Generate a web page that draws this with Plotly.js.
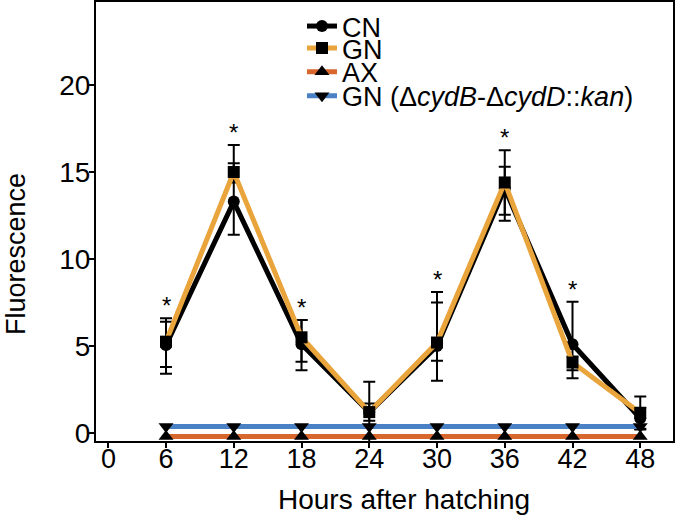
<!DOCTYPE html>
<html>
<head>
<meta charset="utf-8">
<script src="https://cdn.plot.ly/plotly-3.0.1.min.js"></script>
<style>html,body{margin:0;padding:0;background:#fff;}#chart{width:677px;height:518px;}</style>
</head>
<body>
<div id="chart"></div>
<script>
// Hours after hatching
const hours = [6, 12, 18, 24, 30, 36, 42, 48];
// CN
const cnMean = [5.05, 13.3, 5.1, 1.2, 5.0, 14.05, 5.1, 0.85];
const cnErrPlus = [1.55, 2.2, 1.4, 0.5, 3.1, 2.2, 2.45, 0.6];
const cnErrMinus = [1.65, 1.9, 1.5, 0.5, 2.0, 1.85, 1.95, 0.6];
// GN
const gnMean = [5.25, 15.0, 5.5, 1.2, 5.2, 14.4, 4.05, 1.15];
const gnErrPlus = [1.15, 1.55, 1.0, 1.75, 2.3, 0.9, 0.35, 0.95];
const gnErrMinus = [1.45, 0.6, 1.4, 1.75, 1.05, 1.85, 0.45, 0.95];
// AX
const axMean = [-0.2, -0.2, -0.2, -0.2, -0.2, -0.2, -0.2, -0.2];
// GN (ΔcydB-ΔcydD::kan)
const mutMean = [0.37, 0.37, 0.37, 0.37, 0.37, 0.37, 0.37, 0.37];
// significance marks
const sigHours = [6, 12, 18, 30, 36, 42];
// axis ticks
const xTickVals = [0.9, 6, 12, 18, 24, 30, 36, 42, 48];
const xTickText = ['0', '6', '12', '18', '24', '30', '36', '42', '48'];
const yTickVals = [0, 5, 10, 15, 20];
// texts
const xTitle = 'Hours after hatching';
const yTitle = 'Fluorescence';

const FONT = 'Liberation Sans, Arial, sans-serif';

const traces = [
  {x: hours, y: cnMean, name: 'CN', mode: 'lines+markers', legend: 'legend',
   line: {color: '#000000', width: 5},
   marker: {symbol: 'circle', size: 12, color: '#000000'},
   error_y: {type: 'data', symmetric: false, array: cnErrPlus, arrayminus: cnErrMinus, color: '#000000', thickness: 2, width: 6}},
  {x: hours, y: gnMean, name: 'GN', mode: 'lines+markers', legend: 'legend2',
   line: {color: '#E9A43B', width: 5},
   marker: {symbol: 'square', size: 12, color: '#000000'},
   error_y: {type: 'data', symmetric: false, array: gnErrPlus, arrayminus: gnErrMinus, color: '#000000', thickness: 2, width: 6}},
  {x: hours, y: axMean, name: 'AX', mode: 'lines+markers', legend: 'legend3',
   line: {color: '#D8672D', width: 5},
   marker: {symbol: 'triangle-up', size: 13, color: '#000000'}},
  {x: hours, y: mutMean, name: 'GN (Δ<i>cydB</i>-Δ<i>cydD</i>::<i>kan</i>)', mode: 'lines+markers', legend: 'legend4',
   line: {color: '#4A80C4', width: 5},
   marker: {symbol: 'triangle-down', size: 13, color: '#000000'}}
];

const annotations = sigHours.map(h => {
  const i = hours.indexOf(h);
  const top = Math.max(cnMean[i] + cnErrPlus[i], gnMean[i] + gnErrPlus[i]);
  return {x: h, y: top, xref: 'x', yref: 'y', text: '*', showarrow: false,
          yanchor: 'bottom', yshift: -3, font: {family: FONT, size: 24, color: '#000'}};
});
annotations.push({x: 0.534, y: -0.134, xref: 'paper', yref: 'paper', text: xTitle, showarrow: false,
  xanchor: 'center', yanchor: 'middle', font: {family: FONT, size: 28, color: '#000'}});
annotations.push({x: -0.1386, y: 0.426, xref: 'paper', yref: 'paper', text: yTitle, showarrow: false, textangle: -90,
  xanchor: 'center', yanchor: 'middle', font: {family: FONT, size: 27, color: '#000'}});

function leg(yt) {
  return {x: 0.357, y: yt, xanchor: 'left', yanchor: 'top', bgcolor: 'rgba(0,0,0,0)', borderwidth: 0,
          font: {family: FONT, size: 27, color: '#000'}, itemwidth: 30};
}

const layout = {
  width: 677, height: 518,
  margin: {l: 96, r: 4, t: 2, b: 77},
  paper_bgcolor: '#ffffff', plot_bgcolor: '#ffffff',
  showlegend: true,
  legend: leg(1.0), legend2: leg(0.950), legend3: leg(0.896), legend4: leg(0.841),
  xaxis: {range: [-0.2, 50.9], tickmode: 'array', tickvals: xTickVals, ticktext: xTickText,
          showline: true, mirror: true, linecolor: '#000', linewidth: 2,
          ticks: 'outside', ticklen: 5, tickwidth: 2, tickcolor: '#000',
          showgrid: false, zeroline: false, ticklabelstandoff: -12,
          tickfont: {family: FONT, size: 27, color: '#000'}},
  yaxis: {range: [-0.46, 24.77], tickmode: 'array', tickvals: yTickVals,
          showline: true, mirror: true, linecolor: '#000', linewidth: 2,
          ticks: 'outside', ticklen: 5, tickwidth: 2, tickcolor: '#000',
          showgrid: false, zeroline: false, ticklabelstandoff: -7,
          tickfont: {family: FONT, size: 28, color: '#000'}},
  annotations: annotations
};

Plotly.newPlot('chart', traces, layout, {displayModeBar: false, staticPlot: true});
</script>
</body>
</html>
